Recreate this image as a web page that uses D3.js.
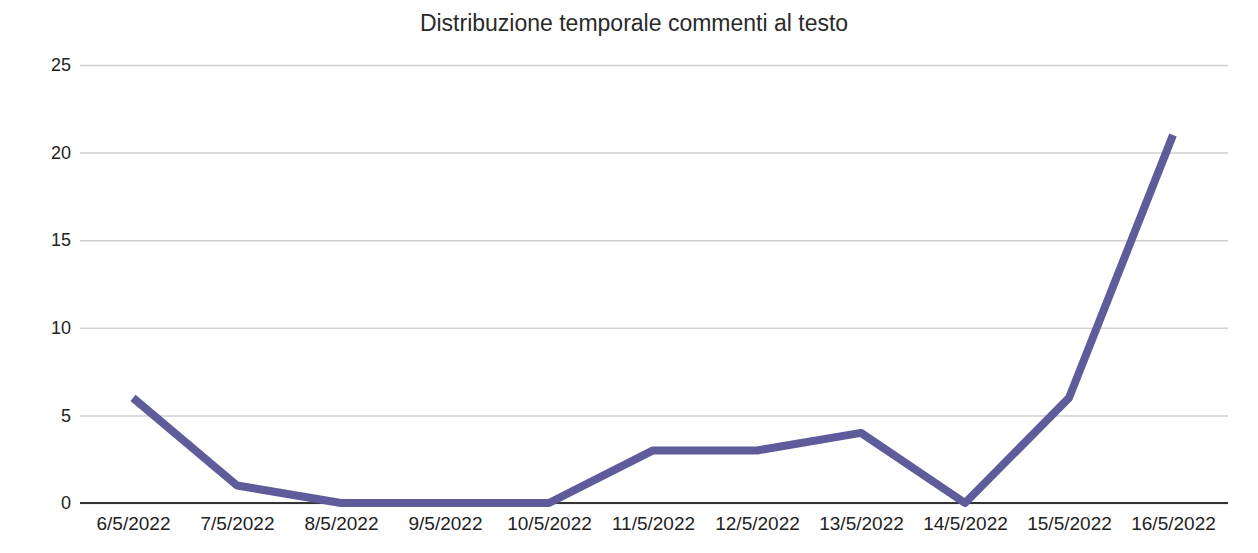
<!doctype html>
<html lang="it">
<head>
  <meta charset="utf-8">
  <title>Distribuzione temporale commenti al testo</title>
  <script src="https://d3js.org/d3.v7.min.js"></script>
  <style>
    body { margin: 0; background: #fff; }
    text { font-family: "Liberation Sans", Arial, sans-serif; fill: #222; }
  </style>
</head>
<body>
  <div id="chart"></div>
  <script>
    var dates = ["6/5/2022", "7/5/2022", "8/5/2022", "9/5/2022", "10/5/2022", "11/5/2022",
                 "12/5/2022", "13/5/2022", "14/5/2022", "15/5/2022", "16/5/2022"];
    var comments = [6, 1, 0, 0, 0, 3, 3, 4, 0, 6, 21];
    var yTicks = [0, 5, 10, 15, 20, 25];

    var width = 1258, height = 553;

    var svg = d3.select("#chart").append("svg")
        .attr("width", width)
        .attr("height", height);

    var x = d3.scalePoint()
        .domain(dates)
        .range([133, 1173]);

    var y = d3.scaleLinear()
        .domain([0, 25])
        .range([503, 65]);

    // title
    svg.append("text")
        .attr("x", 634)
        .attr("y", 31)
        .attr("text-anchor", "middle")
        .style("font-size", "23px")
        .style("fill", "#2a2a2a")
        .text("Distribuzione temporale commenti al testo");

    // gridlines
    svg.append("g")
        .attr("transform", "translate(80,0)")
        .call(d3.axisLeft(y).tickValues(yTicks).tickSize(-1148).tickFormat(""))
        .call(function (g) {
            g.select(".domain").remove();
            g.selectAll("line").attr("stroke", "#cfcfcf").attr("stroke-width", 1.5);
        });

    // y labels
    svg.append("g")
        .attr("transform", "translate(71,0)")
        .call(d3.axisLeft(y).tickValues(yTicks).tickSize(0).tickPadding(0))
        .call(function (g) {
            g.select(".domain").remove();
            g.selectAll("text").style("font-size", "18px").attr("fill", "#222");
        });

    // baseline
    svg.append("line")
        .attr("x1", 80).attr("x2", 1228)
        .attr("y1", y(0)).attr("y2", y(0))
        .attr("stroke", "#333")
        .attr("stroke-width", 2);

    // x labels
    svg.append("g")
        .attr("transform", "translate(0," + y(0) + ")")
        .call(d3.axisBottom(x).tickSize(0).tickPadding(14))
        .call(function (g) {
            g.select(".domain").remove();
            g.selectAll("text").style("font-size", "19px").attr("fill", "#222");
        });

    var line = d3.line()
        .x(function (d, i) { return x(dates[i]); })
        .y(function (d) { return y(d); });

    svg.append("path")
        .datum(comments)
        .attr("fill", "none")
        .attr("stroke", "#5f5c9c")
        .attr("stroke-width", 8)
        .attr("stroke-linejoin", "round")
        .attr("d", line);
  </script>
</body>
</html>
